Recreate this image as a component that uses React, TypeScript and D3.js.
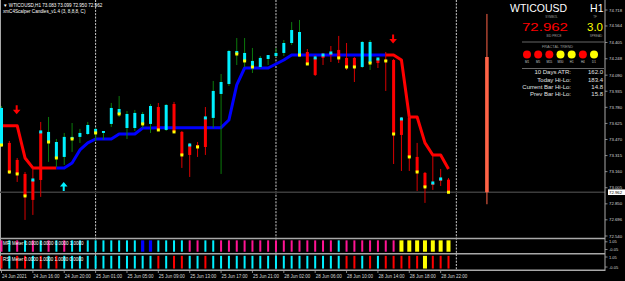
import React from 'react';
import * as d3 from 'd3';

// ---------------- DATA ----------------
const opens = [
  73.417, 73.437, 73.273, 73.138, 73.080, 73.543, 73.446, 73.292, 73.302, 73.475,
  73.495, 73.523, 73.533, 73.533, 73.620, 73.716, 73.581, 73.581, 73.620, 73.620,
  73.783, 73.562, 73.812, 73.543, 73.417, 73.417, 73.678, 73.678, 73.909, 74.005,
  74.294, 74.227, 74.169, 74.169, 74.246, 74.275, 74.304, 74.400, 74.284, 74.313,
  74.256, 74.284, 74.304, 74.333, 74.256, 74.256, 74.169, 74.207, 74.246, 74.236,
  74.236, 73.668, 73.678, 73.302, 73.148, 73.051, 73.090, 73.083,
];
const highs = [
  73.793, 73.456, 73.292, 73.157, 73.196, 73.639, 73.687, 73.475, 73.533, 73.629,
  73.572, 73.639, 73.581, 73.552, 73.822, 73.889, 73.745, 73.755, 73.735, 73.812,
  73.822, 73.812, 73.832, 73.552, 73.437, 73.446, 73.783, 74.034, 74.101, 74.333,
  74.448, 74.448, 74.352, 74.275, 74.284, 74.352, 74.429, 74.602, 74.622, 74.342,
  74.284, 74.304, 74.371, 74.468, 74.400, 74.265, 74.419, 74.429, 74.256, 74.313,
  74.246, 73.687, 73.697, 73.437, 73.157, 73.311, 73.186, 73.099,
];
const lows = [
  73.398, 73.138, 73.061, 72.695, 72.743, 72.917, 73.254, 73.205, 73.225, 73.350,
  73.437, 73.514, 73.456, 73.466, 73.591, 73.687, 73.475, 73.552, 73.581, 73.533,
  73.552, 73.552, 73.533, 73.196, 73.109, 73.302, 73.321, 73.581, 73.138, 73.986,
  74.188, 74.169, 74.111, 74.159, 74.188, 74.265, 74.275, 74.381, 74.265, 74.188,
  74.082, 74.188, 74.217, 74.207, 74.140, 74.024, 74.159, 74.140, 74.159, 73.938,
  73.234, 73.167, 73.167, 72.974, 72.859, 72.984, 73.022, 72.950,
];
const closes = [
  73.774, 73.157, 73.138, 72.926, 72.888, 73.080, 73.543, 73.446, 73.495, 73.495,
  73.533, 73.610, 73.572, 73.552, 73.774, 73.764, 73.716, 73.726, 73.716, 73.793,
  73.562, 73.803, 73.543, 73.321, 73.321, 73.398, 73.398, 73.938, 74.024, 74.323,
  74.323, 74.304, 74.227, 74.256, 74.284, 74.304, 74.400, 74.525, 74.506, 74.198,
  74.092, 74.256, 74.284, 74.256, 74.169, 74.169, 74.410, 74.410, 74.207, 74.227,
  73.523, 73.514, 73.302, 73.157, 73.013, 73.032, 73.071, 72.962,
];
// Y = yellow dot at body bottom, C = cyan dot at body top
const candleMarks = [
  'Y','Y','Y','Y','C','C','Y','Y','','Y',
  '','','Y','','','Y','','','Y','',
  'Y','','Y','Y','C','Y','C','','','',
  'Y','Y','Y','','','','','','Y','Y',
  'C','C','C','Y','Y','Y','','Y','C','Y',
  'Y','C','Y','Y','Y','C','C','Y',
];
const trendLine = [
  73.603, 73.603, 73.603, 73.292, 73.196, 73.196, 73.196, 73.196, 73.196, 73.244,
  73.369, 73.437, 73.475, 73.475, 73.475, 73.523, 73.523, 73.523, 73.581, 73.581,
  73.584, 73.584, 73.584, 73.584, 73.584, 73.584, 73.584, 73.584, 73.584, 73.658,
  73.996, 74.159, 74.159, 74.159, 74.159, 74.198, 74.236, 74.284, 74.284, 74.284,
  74.284, 74.284, 74.284, 74.284, 74.284, 74.284, 74.284, 74.284, 74.284, 74.284,
  74.284, 74.236, 73.687, 73.687, 73.437, 73.321, 73.321, 73.186,
];
const trendDir = [
  1, -1, -1, -1, -1, -1, -1, -1, 1, 1,
  1, 1, 1, 1, 1, 1, 1, 1, 1, 1,
  1, 1, 1, 1, 1, 1, 1, 1, 1, 1,
  1, 1, 1, 1, 1, 1, 1, 1, 1, 1,
  1, 1, 1, 1, 1, 1, 1, 1, 1, 1,
  -1, -1, -1, -1, -1, -1, -1, -1,
];
const arrowDownIdx = [2, 50];
const arrowUpIdx = [8];
// c = cyan, p = pink, b = blue, y = yellow, r = red
const mfiColors = [
  'p','c','p','c','p','c','p','c','p','c',
  'c','c','c','c','c','c','c','c','b','b',
  'c','c','c','c','p','p','c','c','p','p',
  'p','p','p','p','p','p','p','p','p','p',
  'p','p','p','c','p','p','p','p','p','p',
  'p','y','y','y','y','y','y','y',
];
const rsiColors = [
  'r','c','r','r','c','r','c','r','c','c',
  'c','c','c','c','c','c','c','c','c','c',
  'r','c','r','r','c','c','r','c','c','c',
  'c','c','c','c','c','c','c','c','c','c',
  'c','c','c','c','r','r','c','r','c','r',
  'r','r','r','r','y','r','r','r',
];
const timeIdx = [0, 4, 8, 12, 16, 20, 24, 28, 32, 36, 40, 44, 48, 52, 56];
const timeLabels = [
  '24 Jun 2021', '24 Jun 16:00', '24 Jun 20:00', '25 Jun 01:00', '25 Jun 05:00',
  '25 Jun 09:00', '25 Jun 13:00', '25 Jun 17:00', '25 Jun 21:00', '28 Jun 02:00',
  '28 Jun 06:00', '28 Jun 10:00', '28 Jun 14:00', '28 Jun 18:00', '28 Jun 22:00',
];
const separatorIdx = [12, 35, 58];
const priceTicks = [
  74.718, 74.564, 74.405, 74.248, 74.090, 73.935, 73.780, 73.625,
  73.470, 73.315, 73.160, 73.005, 72.850, 72.696, 72.540,
];
const bidPrice = 72.962;
const dailyOHLC = [74.265, 74.680, 72.846, 72.962];
const meterTicks = [1.05, -0.05];
const fractalTF = ['M1', 'M5', 'M15', 'M30', 'H1', 'H4', 'D1'];
const fractalState = ['dn', 'dn', 'dn', 'up', 'up', 'dn', 'up'];
const statLabels = ['10 Days ATR:', 'Today Hi-Lo:', 'Current Bar Hi-Lo:', 'Prev Bar Hi-Lo:'];
const statValues = ['162.0', '183.4', '14.8', '15.8'];
const headerLine1 = '\u25BC WTICOUSD,H1  73.083 73.099 72.950 72.962';
const headerLine2 = 'xmC4Scalper Candles_v1.4 (3, 8,8,8, C)';
const mfiLabel = 'MFI Meter 0.0000 0.0000 0.0000 1.0000';
const rsiLabel = 'RSI Meter 0.0000 1.0000 1.0000 0.0000';

// ---------------- STYLE ----------------
const FONT = 'Liberation Sans, Arial, sans-serif';
const CYAN = '#00f0ff';
const RED = '#ff0000';
const YELLOW = '#ffff00';
const BLUE = '#0000ff';
const PINK = '#ff1493';
const GREEN_WICK = '#0b7a0b';
const RED_WICK = '#d80000';
const GRID = '#a8a8a8';
const AXIS_TXT = '#d8d8d8';

const colorMap: Record<string, string> = { c: CYAN, p: PINK, b: BLUE, y: YELLOW, r: RED };

export default function App() {
  const N = opens.length;
  const x = d3.scaleLinear().domain([0, N - 1]).range([1.5, 448.5]);
  const y = d3.scaleLinear().domain([72.540, 74.718]).range([236, 10]);
  const yM = d3.scaleLinear().domain([-0.05, 1.05]).range([252.3, 239.8]);
  const yR = d3.scaleLinear().domain([-0.05, 1.05]).range([269.2, 255.2]);
  // label positions for the meter axes (kept clear of each other)
  const yMLabel = d3.scaleLinear().domain([-0.05, 1.05]).range([249.5, 241.8]);
  const yRLabel = d3.scaleLinear().domain([-0.05, 1.05]).range([267, 257]);
  const AXIS_X = 605;

  // trend line runs
  const runs: { c: string; pts: [number, number][] }[] = [];
  for (let i = 1; i < N; i++) {
    const c = trendDir[i] > 0 ? BLUE : RED;
    const last = runs[runs.length - 1];
    if (last && last.c === c) last.pts.push([x(i), y(trendLine[i])]);
    else runs.push({ c, pts: [[x(i - 1), y(trendLine[i - 1])], [x(i), y(trendLine[i])]] });
  }
  const line = d3.line();

  const downArrow = (cx: number, tip: number) =>
    `M${cx - 1},${tip - 9} L${cx + 1},${tip - 9} L${cx + 1},${tip - 4.5} L${cx + 3.8},${tip - 4.5} L${cx},${tip} L${cx - 3.8},${tip - 4.5} L${cx - 1},${tip - 4.5} Z`;
  const upArrow = (cx: number, tip: number) =>
    `M${cx - 1},${tip + 9} L${cx + 1},${tip + 9} L${cx + 1},${tip + 4.5} L${cx + 3.8},${tip + 4.5} L${cx},${tip} L${cx - 3.8},${tip + 4.5} L${cx - 1},${tip + 4.5} Z`;

  const dailyX = x(61.9);

  return (
    <svg width={625} height={281} style={{ position: 'fixed', left: 0, top: 0, display: 'block' }} fontFamily={FONT}>
      <rect x={0} y={0} width={625} height={281} fill="#000" />

      {/* left border */}
      <line x1={0.5} y1={0} x2={0.5} y2={270} stroke={GRID} strokeWidth={1} />

      {/* period separators */}
      {separatorIdx.map((i) => (
        <line key={'sep' + i} x1={x(i)} y1={0} x2={x(i)} y2={270} stroke="#cfcfcf" strokeWidth={1} strokeDasharray="2,1.3" />
      ))}

      {/* bid line */}
      <line x1={0} y1={y(bidPrice)} x2={AXIS_X} y2={y(bidPrice)} stroke="#3c3c3c" strokeWidth={1.6} />

      {/* trend line */}
      <line x1={0} y1={y(trendLine[0])} x2={x(0) + 1.2} y2={y(trendLine[0])} stroke={trendDir[0] > 0 ? BLUE : RED} strokeWidth={3} />
      {runs.map((r, k) => (
        <path key={'run' + k} d={line(r.pts) || ''} fill="none" stroke={r.c} strokeWidth={3} strokeLinejoin="round" />
      ))}

      {/* candles */}
      {opens.map((o, i) => {
        const c = closes[i];
        const bull = c >= o;
        const cx = x(i);
        const top = y(Math.max(o, c));
        const bot = y(Math.min(o, c));
        const m = candleMarks[i];
        return (
          <g key={'c' + i}>
            <line x1={cx} x2={cx} y1={y(highs[i])} y2={y(lows[i])} stroke={bull ? GREEN_WICK : RED_WICK} strokeWidth={1} />
            <rect x={cx - 1.5} width={3} y={top} height={Math.max(1, bot - top)} fill={bull ? CYAN : RED} />
            {m === 'Y' && <rect x={cx - 1.5} y={bot - 1.5} width={3} height={3} fill={YELLOW} />}
            {m === 'C' && <rect x={cx - 1.5} y={top - 1.5} width={3} height={3} fill={CYAN} />}
          </g>
        );
      })}

      {/* arrows */}
      {arrowDownIdx.map((i) => (
        <path key={'ad' + i} d={downArrow(x(i) - 0.5, y(trendLine[i]) - 11.5)} fill={RED} />
      ))}
      {arrowUpIdx.map((i) => (
        <path key={'au' + i} d={upArrow(x(i) - 0.5, y(trendLine[i]) + 14)} fill={CYAN} />
      ))}

      {/* daily bar */}
      <line x1={dailyX} x2={dailyX} y1={y(dailyOHLC[1])} y2={y(dailyOHLC[2])} stroke="#ff6347" strokeWidth={1} />
      <rect x={dailyX - 1.8} width={3.6} y={y(dailyOHLC[0])} height={y(dailyOHLC[3]) - y(dailyOHLC[0])} fill="#ff6347" />

      {/* header */}
      <text x={3} y={6.5} fontSize={4.6} fill="#fff">{headerLine1}</text>
      <text x={3} y={13} fontSize={4.6} fill="#fff">{headerLine2}</text>

      {/* info panel */}
      <text x={510} y={12} fontSize={10.5} fill="#fff" textLength={57} lengthAdjust="spacingAndGlyphs">WTICOUSD</text>
      <text x={603.5} y={12} fontSize={10.5} fill="#fff" textAnchor="end">H1</text>
      <text x={551.5} y={17.5} fontSize={3} fill="#9a9a9a" textAnchor="middle">SYMBOL</text>
      <text x={595} y={17.5} fontSize={3} fill="#9a9a9a" textAnchor="middle">TF</text>
      <text x={522} y={31} fontSize={11.5} fill={RED} textLength={46} lengthAdjust="spacingAndGlyphs">72.962</text>
      <text x={603} y={31} fontSize={11.5} fill={YELLOW} textAnchor="end">3.0</text>
      <text x={554} y={36.5} fontSize={3} fill="#9a9a9a" textAnchor="middle">BID PRICE</text>
      <text x={596} y={36.5} fontSize={3} fill="#9a9a9a" textAnchor="middle">SPREAD</text>
      <line x1={522} x2={604} y1={42} y2={42} stroke="#808080" strokeWidth={0.8} />
      <text x={557.5} y={48} fontSize={3.8} fill="#9a9a9a" textAnchor="middle">FRACTAL TREND</text>
      {fractalTF.map((tf, k) => {
        const cx = 527 + k * 11.17;
        return (
          <g key={'fr' + k}>
            <circle cx={cx} cy={54.5} r={4} fill={fractalState[k] === 'up' ? YELLOW : RED} />
            <text x={cx} y={63} fontSize={3} fill="#c8c8c8" textAnchor="middle">{tf}</text>
          </g>
        );
      })}
      <line x1={522} x2={604} y1={68.5} y2={68.5} stroke="#808080" strokeWidth={0.8} />
      {statLabels.map((s, k) => (
        <g key={'st' + k}>
          <text x={571} y={74.3 + k * 7.2} fontSize={6} fill="#e0e0e0" textAnchor="end">{s}</text>
          <text x={603} y={74.3 + k * 7.2} fontSize={6} fill="#e0e0e0" textAnchor="end">{statValues[k]}</text>
        </g>
      ))}

      {/* sub panels */}
      {mfiColors.map((c, i) => {
        const w = c === 'y' ? 4 : c === 'b' ? 3.2 : 2;
        return <rect key={'m' + i} x={x(i) - w / 2} width={w} y={yM(1)} height={yM(0) - yM(1)} fill={colorMap[c]} />;
      })}
      {rsiColors.map((c, i) => {
        const w = c === 'y' ? 4 : 2;
        return <rect key={'r' + i} x={x(i) - w / 2} width={w} y={yR(1)} height={yR(0) - yR(1)} fill={colorMap[c]} />;
      })}
      <text x={3} y={245} fontSize={4.5} fill="#fff">{mfiLabel}</text>
      <text x={3} y={260.5} fontSize={4.5} fill="#fff">{rsiLabel}</text>

      {/* panel separators */}
      <line x1={0} x2={AXIS_X} y1={238.5} y2={238.5} stroke={GRID} strokeWidth={1.5} />
      <line x1={0} x2={AXIS_X} y1={253.7} y2={253.7} stroke={GRID} strokeWidth={1.5} />
      <line x1={0} x2={AXIS_X} y1={270.3} y2={270.3} stroke={GRID} strokeWidth={1.5} />

      {/* right axis */}
      <line x1={AXIS_X} x2={AXIS_X} y1={0} y2={271} stroke={GRID} strokeWidth={1} />
      {priceTicks.map((p) => (
        <g key={'pt' + p}>
          <line x1={AXIS_X} x2={AXIS_X + 2.5} y1={y(p)} y2={y(p)} stroke={GRID} strokeWidth={0.8} />
          <text x={609} y={y(p) + 1.5} fontSize={4.3} fill={AXIS_TXT}>{p.toFixed(3)}</text>
        </g>
      ))}
      <rect x={608} y={y(bidPrice) - 2.8} width={17} height={5.6} fill="#fff" />
      <text x={609} y={y(bidPrice) + 1.5} fontSize={4.3} fill="#000">{bidPrice.toFixed(3)}</text>
      {meterTicks.map((v) => (
        <g key={'ma' + v}>
          <line x1={AXIS_X} x2={AXIS_X + 2.5} y1={yMLabel(v)} y2={yMLabel(v)} stroke={GRID} strokeWidth={0.8} />
          <text x={609} y={yMLabel(v) + 1.5} fontSize={4} fill={AXIS_TXT}>{v.toFixed(2)}</text>
        </g>
      ))}
      {meterTicks.map((v) => (
        <g key={'ra' + v}>
          <line x1={AXIS_X} x2={AXIS_X + 2.5} y1={yRLabel(v)} y2={yRLabel(v)} stroke={GRID} strokeWidth={0.8} />
          <text x={609} y={yRLabel(v) + 1.5} fontSize={4} fill={AXIS_TXT}>{v.toFixed(2)}</text>
        </g>
      ))}

      {/* time axis */}
      {timeIdx.map((i, k) => (
        <g key={'t' + i}>
          <line x1={x(i)} x2={x(i)} y1={270.5} y2={273} stroke={GRID} strokeWidth={0.8} />
          <text x={x(i) + 0.5} y={277.5} fontSize={4.5} fill={AXIS_TXT}>{timeLabels[k]}</text>
        </g>
      ))}
    </svg>
  );
}
